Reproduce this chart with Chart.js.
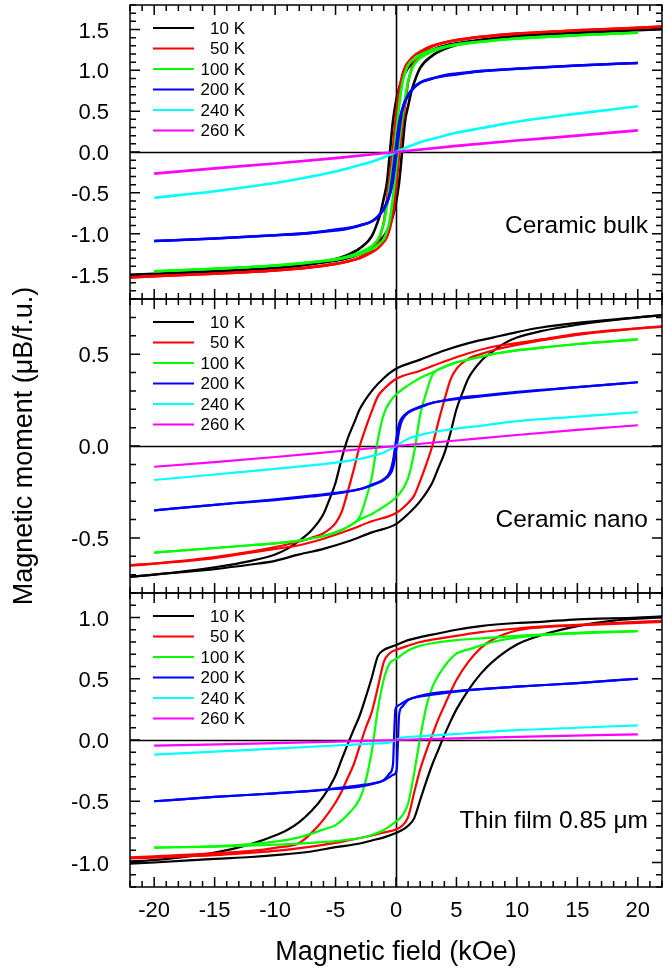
<!DOCTYPE html>
<html>
<head>
<meta charset="utf-8">
<title>Hysteresis loops</title>
<style>
  html, body { margin: 0; padding: 0; background: #fff; }
  #wrap { width: 663px; height: 969px; }
</style>
<script src="https://cdn.jsdelivr.net/npm/chart.js@4.4.1/dist/chart.umd.min.js"></script>
</head>
<body>
<div id="wrap"><canvas id="loops" width="663" height="969"></canvas></div>
<script>
// Legend / colours, shared by the three panels
const temps = ['10 K', '50 K', '100 K', '200 K', '240 K', '260 K'];
const colors = ['#000000', '#ff0000', '#00ff00', '#0000ff', '#00ffff', '#ff00ff'];
const panelNames = ['Ceramic bulk', 'Ceramic nano', 'Thin film 0.85 \u03bcm'];

// Field (kOe) vs moment (uB/f.u.) pairs.
// "Upper" = branch swept from +H to -H, "Lower" = branch swept from -H to +H.

// ---- Ceramic bulk ----
const bulk10Upper = [[-24,-1.52],[-20,-1.49],[-15,-1.46],[-10,-1.42],[-7,-1.37],[-5,-1.31],[-4,-1.26],[-3,-1.18],[-2,-1.03],[-1.5,-0.85],[-1.25,-0.73],[-1,-0.56],[-0.75,-0.38],[-0.5,0],[-0.25,0.38],[0,0.62],[0.25,0.78],[0.5,0.89],[0.75,0.97],[1,1.03],[1.5,1.12],[2,1.18],[3,1.25],[4,1.30],[5,1.33],[7,1.37],[10,1.42],[15,1.46],[20,1.50],[24,1.53]];
const bulk10Lower = [[-24,-1.53],[-20,-1.50],[-15,-1.46],[-10,-1.42],[-7,-1.37],[-5,-1.33],[-4,-1.30],[-3,-1.25],[-2,-1.18],[-1.5,-1.12],[-1,-1.03],[-0.75,-0.97],[-0.5,-0.89],[-0.25,-0.78],[0,-0.62],[0.25,-0.38],[0.5,0],[0.75,0.38],[1,0.56],[1.25,0.73],[1.5,0.85],[2,1.03],[3,1.18],[4,1.26],[5,1.31],[7,1.37],[10,1.42],[15,1.46],[20,1.49],[24,1.52]];
const bulk50Upper = [[-24,-1.55],[-20,-1.52],[-15,-1.49],[-10,-1.45],[-7,-1.41],[-5,-1.37],[-4,-1.34],[-3,-1.29],[-2,-1.20],[-1.5,-1.10],[-1.25,-1.00],[-1,-0.85],[-0.75,-0.58],[-0.5,-0.28],[-0.25,0.05],[0,0.45],[0.25,0.75],[0.5,0.93],[0.75,1.04],[1,1.10],[1.5,1.18],[2,1.23],[3,1.30],[4,1.34],[5,1.37],[7,1.41],[10,1.45],[15,1.49],[20,1.52],[24,1.55]];
const bulk50Lower = [[-24,-1.55],[-20,-1.52],[-15,-1.49],[-10,-1.45],[-7,-1.41],[-5,-1.37],[-4,-1.34],[-3,-1.30],[-2,-1.23],[-1.5,-1.18],[-1,-1.10],[-0.75,-1.04],[-0.5,-0.93],[-0.25,-0.75],[0,-0.45],[0.25,-0.05],[0.5,0.28],[0.75,0.58],[1,0.85],[1.25,1.00],[1.5,1.10],[2,1.20],[3,1.29],[4,1.34],[5,1.37],[7,1.41],[10,1.45],[15,1.49],[20,1.52],[24,1.55]];
const bulk100Upper = [[-20,-1.46],[-15,-1.43],[-10,-1.39],[-7,-1.35],[-5,-1.31],[-4,-1.28],[-3,-1.23],[-2,-1.15],[-1.5,-1.07],[-1.25,-0.99],[-1,-0.87],[-0.75,-0.66],[-0.5,-0.40],[-0.25,-0.12],[0,0.22],[0.25,0.55],[0.5,0.82],[0.75,0.97],[1,1.06],[1.5,1.14],[2,1.19],[3,1.25],[4,1.29],[5,1.32],[7,1.35],[10,1.39],[15,1.43],[20,1.46]];
const bulk100Lower = [[-20,-1.46],[-15,-1.43],[-10,-1.39],[-7,-1.35],[-5,-1.32],[-4,-1.29],[-3,-1.25],[-2,-1.19],[-1.5,-1.14],[-1,-1.06],[-0.75,-0.97],[-0.5,-0.82],[-0.25,-0.55],[0,-0.22],[0.25,0.12],[0.5,0.40],[0.75,0.66],[1,0.87],[1.25,0.99],[1.5,1.07],[2,1.15],[3,1.23],[4,1.28],[5,1.31],[7,1.35],[10,1.39],[15,1.43],[20,1.46]];
const bulk200Upper = [[-20,-1.09],[-15,-1.06],[-10,-1.02],[-7,-0.99],[-5,-0.96],[-4,-0.94],[-3,-0.90],[-2,-0.85],[-1.5,-0.79],[-1,-0.69],[-0.5,-0.50],[-0.25,-0.24],[0,0.06],[0.25,0.35],[0.5,0.52],[1,0.70],[1.5,0.79],[2,0.85],[3,0.90],[4,0.93],[5,0.95],[7,0.99],[10,1.02],[15,1.06],[20,1.09]];
const bulk200Lower = [[-20,-1.09],[-15,-1.06],[-10,-1.02],[-7,-0.99],[-5,-0.95],[-4,-0.93],[-3,-0.90],[-2,-0.85],[-1.5,-0.79],[-1,-0.70],[-0.5,-0.52],[-0.25,-0.35],[0,-0.06],[0.25,0.24],[0.5,0.50],[1,0.69],[1.5,0.79],[2,0.85],[3,0.90],[4,0.94],[5,0.96],[7,0.99],[10,1.02],[15,1.06],[20,1.09]];
const bulk240 = [[-20,-0.56],[-15,-0.48],[-10,-0.38],[-7,-0.30],[-5,-0.24],[-3,-0.16],[-2,-0.12],[-1,-0.065],[0,0],[1,0.065],[2,0.12],[3,0.16],[5,0.235],[7,0.29],[10,0.37],[15,0.47],[20,0.56]];
const bulk260 = [[-20,-0.265],[-15,-0.20],[-10,-0.14],[-5,-0.075],[0,0],[5,0.075],[10,0.14],[15,0.20],[20,0.265]];

// ---- Ceramic nano ----
const nano10Upper = [[-24,-0.72],[-20,-0.70],[-15,-0.66],[-12,-0.625],[-10,-0.59],[-9,-0.56],[-8,-0.515],[-7,-0.46],[-6,-0.37],[-5.5,-0.29],[-5,-0.20],[-4.5,-0.07],[-4,0.04],[-3.5,0.12],[-3,0.20],[-2,0.30],[-1,0.37],[0,0.42],[2,0.47],[4,0.52],[6,0.56],[8,0.59],[10,0.62],[12,0.645],[15,0.67],[20,0.70],[24,0.725]];
const nano10Lower = [[-24,-0.725],[-20,-0.70],[-15,-0.67],[-12,-0.645],[-10,-0.625],[-8,-0.59],[-6,-0.56],[-4,-0.52],[-2,-0.47],[0,-0.425],[1,-0.37],[2,-0.30],[3,-0.20],[3.5,-0.12],[4,-0.04],[4.5,0.07],[5,0.20],[5.5,0.29],[6,0.37],[7,0.46],[8,0.515],[9,0.56],[10,0.59],[12,0.625],[15,0.66],[20,0.70],[24,0.72]];
const nano50Upper = [[-24,-0.66],[-20,-0.64],[-15,-0.605],[-12,-0.575],[-10,-0.55],[-8,-0.52],[-7,-0.50],[-6,-0.475],[-5,-0.42],[-4.5,-0.36],[-4,-0.25],[-3.5,-0.13],[-3,0.0],[-2.5,0.10],[-2,0.19],[-1.5,0.27],[-1,0.31],[0,0.365],[2,0.41],[4,0.46],[6,0.505],[8,0.54],[10,0.56],[12,0.58],[15,0.61],[20,0.64],[24,0.655]];
const nano50Lower = [[-24,-0.655],[-20,-0.64],[-15,-0.61],[-12,-0.58],[-10,-0.56],[-8,-0.54],[-6,-0.505],[-4,-0.46],[-2,-0.41],[0,-0.365],[1,-0.31],[1.5,-0.27],[2,-0.19],[2.5,-0.10],[3,0.0],[3.5,0.13],[4,0.25],[4.5,0.36],[5,0.42],[6,0.475],[7,0.50],[8,0.52],[10,0.55],[12,0.575],[15,0.605],[20,0.64],[24,0.66]];
const nano100Upper = [[-20,-0.58],[-15,-0.555],[-12,-0.54],[-10,-0.53],[-8,-0.515],[-6,-0.49],[-5,-0.47],[-4,-0.44],[-3,-0.385],[-2.5,-0.29],[-2,-0.17],[-1.5,0.035],[-1,0.175],[-0.5,0.24],[0,0.28],[1,0.33],[2,0.37],[3,0.40],[4,0.43],[5,0.455],[6,0.47],[8,0.50],[10,0.52],[12,0.535],[15,0.555],[20,0.58]];
const nano100Lower = [[-20,-0.58],[-15,-0.555],[-12,-0.54],[-10,-0.53],[-8,-0.515],[-6,-0.49],[-5,-0.47],[-4,-0.44],[-3,-0.40],[-2,-0.37],[-1,-0.33],[0,-0.28],[0.5,-0.24],[1,-0.175],[1.5,-0.035],[2,0.17],[2.5,0.29],[3,0.385],[4,0.43],[5,0.455],[6,0.47],[8,0.50],[10,0.52],[12,0.535],[15,0.555],[20,0.58]];
const nano200Upper = [[-20,-0.35],[-15,-0.32],[-10,-0.29],[-7,-0.27],[-5,-0.255],[-3,-0.235],[-2,-0.21],[-1,-0.18],[-0.5,-0.14],[-0.25,-0.08],[0,0.03],[0.25,0.12],[0.5,0.155],[1,0.185],[2,0.215],[3,0.235],[5,0.26],[7,0.275],[10,0.295],[15,0.32],[20,0.347]];
const nano200Lower = [[-20,-0.35],[-15,-0.32],[-10,-0.295],[-7,-0.275],[-5,-0.26],[-3,-0.235],[-2,-0.215],[-1,-0.185],[-0.5,-0.155],[-0.25,-0.12],[0,-0.03],[0.25,0.08],[0.5,0.14],[1,0.18],[2,0.21],[3,0.235],[5,0.255],[7,0.27],[10,0.29],[15,0.32],[20,0.347]];
const nano240 = [[-20,-0.185],[-15,-0.155],[-10,-0.125],[-7,-0.105],[-5,-0.09],[-3,-0.07],[-2,-0.055],[-1,-0.035],[0,0],[1,0.04],[2,0.06],[3,0.075],[5,0.095],[7,0.11],[10,0.135],[15,0.16],[20,0.184]];
const nano260 = [[-20,-0.113],[-15,-0.088],[-10,-0.06],[-5,-0.03],[0,0],[5,0.03],[10,0.06],[15,0.088],[20,0.113]];

// ---- Thin film 0.85 um ----
const film10Upper = [[-24,-1.0],[-20,-0.98],[-18,-0.96],[-15,-0.92],[-12,-0.85],[-10,-0.78],[-9,-0.735],[-8,-0.67],[-7,-0.58],[-6,-0.46],[-5,-0.29],[-4.5,-0.16],[-4,-0.035],[-3.5,0.085],[-3,0.20],[-2.5,0.35],[-2,0.51],[-1.5,0.685],[-1,0.735],[-0.5,0.757],[0,0.775],[1,0.815],[2,0.84],[3,0.86],[5,0.90],[7,0.93],[10,0.955],[12,0.965],[15,0.985],[20,1.0],[24,1.02]];
const film10Lower = [[-24,-1.02],[-20,-1.0],[-15,-0.97],[-12,-0.955],[-10,-0.94],[-7,-0.91],[-5,-0.875],[-3,-0.845],[-2,-0.82],[-1,-0.795],[0,-0.76],[0.5,-0.735],[1,-0.70],[1.5,-0.64],[2,-0.49],[2.5,-0.34],[3,-0.20],[3.5,-0.08],[4,0.04],[4.5,0.15],[5,0.25],[6,0.41],[7,0.54],[8,0.64],[10,0.78],[12,0.855],[15,0.93],[18,0.975],[20,0.99],[24,1.01]];
const film50Upper = [[-24,-0.965],[-20,-0.95],[-15,-0.925],[-12,-0.905],[-10,-0.88],[-8,-0.84],[-7,-0.76],[-6,-0.65],[-5,-0.51],[-4.5,-0.42],[-4,-0.31],[-3.5,-0.20],[-3,-0.05],[-2.5,0.10],[-2,0.23],[-1.5,0.43],[-1,0.64],[-0.5,0.71],[0,0.735],[1,0.77],[2,0.80],[3,0.82],[5,0.85],[7,0.88],[10,0.91],[12,0.925],[15,0.94],[20,0.965],[24,0.98]];
const film50Lower = [[-24,-0.975],[-20,-0.96],[-15,-0.94],[-12,-0.92],[-10,-0.905],[-7,-0.87],[-5,-0.84],[-3,-0.80],[-2,-0.78],[-1,-0.755],[0,-0.73],[0.5,-0.70],[1,-0.63],[1.5,-0.43],[2,-0.24],[2.5,-0.09],[3,0.04],[3.5,0.17],[4,0.28],[4.5,0.39],[5,0.49],[6,0.64],[7,0.75],[8,0.82],[10,0.895],[12,0.92],[15,0.935],[20,0.955],[24,0.975]];
const film100Upper = [[-20,-0.878],[-15,-0.868],[-12,-0.85],[-10,-0.83],[-8,-0.795],[-7,-0.765],[-6,-0.73],[-5,-0.695],[-4,-0.61],[-3,-0.48],[-2.5,-0.33],[-2,-0.09],[-1.5,0.25],[-1,0.50],[-0.5,0.63],[0,0.66],[1,0.73],[2,0.77],[3,0.79],[5,0.815],[7,0.83],[10,0.85],[15,0.875],[20,0.888]];
const film100Lower = [[-20,-0.878],[-15,-0.87],[-10,-0.855],[-7,-0.84],[-5,-0.825],[-3,-0.80],[-2,-0.775],[-1,-0.735],[0,-0.665],[0.5,-0.62],[1,-0.52],[1.5,-0.27],[2,0.02],[2.5,0.27],[3,0.43],[4,0.60],[5,0.705],[6,0.74],[7,0.77],[8,0.80],[10,0.835],[12,0.855],[15,0.87],[20,0.888]];
const film200Upper = [[-20,-0.50],[-15,-0.465],[-10,-0.435],[-7,-0.415],[-5,-0.40],[-3,-0.38],[-2,-0.36],[-1,-0.325],[-0.5,-0.27],[-0.25,-0.2],[-0.15,0.05],[-0.05,0.25],[0.25,0.285],[0.5,0.30],[1,0.33],[2,0.355],[3,0.37],[5,0.395],[7,0.415],[10,0.435],[15,0.465],[20,0.50]];
const film200Lower = [[-20,-0.50],[-15,-0.465],[-10,-0.435],[-7,-0.415],[-5,-0.395],[-3,-0.37],[-2,-0.355],[-1,-0.33],[-0.5,-0.30],[-0.25,-0.285],[0.05,-0.25],[0.15,-0.05],[0.25,0.2],[0.5,0.27],[1,0.325],[2,0.36],[3,0.38],[5,0.40],[7,0.415],[10,0.435],[15,0.465],[20,0.50]];
const film240 = [[-20,-0.12],[-15,-0.095],[-10,-0.07],[-5,-0.045],[-2,-0.03],[-0.5,-0.02],[0,0],[0.5,0.02],[2,0.03],[5,0.05],[10,0.08],[15,0.10],[20,0.12]];
const film260 = [[-20,-0.046],[-10,-0.025],[0,0],[10,0.025],[20,0.046]];

const bulkLoops = [[bulk10Upper, bulk10Lower], [bulk50Upper, bulk50Lower], [bulk100Upper, bulk100Lower], [bulk200Upper, bulk200Lower], [bulk240], [bulk260]];
const nanoLoops = [[nano10Upper, nano10Lower], [nano50Upper, nano50Lower], [nano100Upper, nano100Lower], [nano200Upper, nano200Lower], [nano240], [nano260]];
const filmLoops = [[film10Upper, film10Lower], [film50Upper, film50Lower], [film100Upper, film100Lower], [film200Upper, film200Lower], [film240], [film260]];

Chart.defaults.font.family = '"Liberation Sans", Arial, sans-serif';
Chart.defaults.color = '#000';

const datasets = [];
function addPanel(loops, axisId, width) {
    loops.forEach((branches, t) => {
        branches.forEach(branch => {
            datasets.push({
                label: temps[t],
                yAxisID: axisId,
                data: branch.map(p => ({ x: p[0], y: p[1] })),
                borderColor: colors[t],
                borderWidth: width,
                pointRadius: 0,
                fill: false,
                cubicInterpolationMode: 'monotone',
                order: temps.length - t
            });
        });
    });
}
addPanel(bulkLoops, 'yBulk', 2.6);
addPanel(nanoLoops, 'yNano', 2.2);
addPanel(filmLoops, 'yFilm', 2.2);

function yAxis(lim) {
    return {
        type: 'linear', position: 'left', stack: 'panels', stackWeight: 1,
        min: -lim, max: lim,
        grid: { display: false }, border: { display: false },
        ticks: {
            stepSize: 0.5, includeBounds: false, autoSkip: false, padding: 13, labelOffset: 2,
            font: { size: 22 }, color: '#000',
            callback: v => v.toFixed(1)
        },
        afterFit: s => { s.width = 128; s.paddingTop = 0; s.paddingBottom = 0; }
    };
}

// panel frames, inward ticks, zero lines, legends and panel names
const panelDecor = {
    id: 'panelDecor',
    beforeDatasetsDraw(chart) {
        const { ctx, chartArea, scales } = chart;
        ctx.save();
        ctx.strokeStyle = '#000';
        ctx.lineWidth = 1.6;
        ['yBulk', 'yNano', 'yFilm'].forEach(id => {
            const y0 = Math.round(scales[id].getPixelForValue(0)) + 0.5;
            ctx.beginPath();
            ctx.moveTo(chartArea.left, y0);
            ctx.lineTo(chartArea.right, y0);
            ctx.stroke();
        });
        const x0 = Math.round(scales.x.getPixelForValue(0)) + 0.5;
        ctx.beginPath();
        ctx.moveTo(x0, chartArea.top);
        ctx.lineTo(x0, chartArea.bottom);
        ctx.stroke();
        ctx.restore();
    },
    afterDatasetsDraw(chart, args, opts) {
        const { ctx, chartArea, scales } = chart;
        const x = scales.x;
        const L = chartArea.left, R = chartArea.right;
        ctx.save();
        ctx.strokeStyle = '#000';
        ctx.lineWidth = 1.5;
        ['yBulk', 'yNano', 'yFilm'].forEach((id, p) => {
            const s = scales[id];
            const T = s.top, B = s.bottom;
            ctx.strokeRect(L, T, R - L, B - T);
            // y ticks every 0.1, major every 0.5
            const lo = Math.ceil(s.min * 10 - 1e-6), hi = Math.floor(s.max * 10 + 1e-6);
            ctx.beginPath();
            for (let i = lo; i <= hi; i++) {
                const py = s.getPixelForValue(i / 10);
                const len = i % 5 === 0 ? 10 : 6;
                ctx.moveTo(L, py); ctx.lineTo(L + len, py);
                ctx.moveTo(R, py); ctx.lineTo(R - len, py);
            }
            // x ticks every 1 kOe, major every 5
            for (let h = Math.ceil(x.min); h <= Math.floor(x.max); h++) {
                const px = x.getPixelForValue(h);
                const len = h % 5 === 0 ? 10 : 6;
                ctx.moveTo(px, T); ctx.lineTo(px, T + len);
                ctx.moveTo(px, B); ctx.lineTo(px, B - len);
            }
            ctx.stroke();

            // legend
            ctx.font = '17px "Liberation Sans", Arial, sans-serif';
            ctx.textAlign = 'right';
            ctx.textBaseline = 'middle';
            temps.forEach((t, i) => {
                const ry = T + 23 + i * 20.5;
                ctx.strokeStyle = colors[i];
                ctx.lineWidth = 2.2;
                ctx.beginPath();
                ctx.moveTo(L + 23, ry); ctx.lineTo(L + 64, ry);
                ctx.stroke();
                ctx.fillStyle = '#000';
                ctx.fillText(t, L + 115, ry + 1);
            });
            ctx.strokeStyle = '#000';
            ctx.lineWidth = 1.5;

            // panel name
            ctx.font = '24.5px "Liberation Sans", Arial, sans-serif';
            ctx.textBaseline = 'alphabetic';
            ctx.fillText(panelNames[p], R - 14, B - opts.nameOffsets[p]);
        });
        ctx.restore();
    }
};

new Chart(document.getElementById('loops'), {
    type: 'line',
    data: { datasets: datasets },
    options: {
        responsive: false,
        animation: false,
        events: [],
        layout: { padding: { left: 2, right: 1, top: 5, bottom: 0 } },
        plugins: {
            legend: { display: false },
            tooltip: { enabled: false },
            panelDecor: { nameOffsets: [66, 66, 59] }
        },
        scales: {
            x: {
                type: 'linear', position: 'bottom', min: -22, max: 22,
                grid: { display: false }, border: { display: false },
                ticks: { stepSize: 5, includeBounds: false, autoSkip: false, padding: 3, maxRotation: 0, font: { size: 22 }, color: '#000' },
                title: { display: true, text: 'Magnetic field (kOe)', font: { size: 27 }, color: '#000', padding: { top: 4, bottom: 0 } },
                afterFit: s => { s.height = 82; s.paddingLeft = 0; s.paddingRight = 0; }
            },
            yFilm: yAxis(1.2),
            yNano: Object.assign(yAxis(0.8), {
                title: { display: true, text: 'Magnetic moment (\u03bcB/f.u.)', font: { size: 27 }, color: '#000', padding: { top: 6, bottom: 0 } }
            }),
            yBulk: yAxis(1.8)
        }
    },
    plugins: [panelDecor]
});
</script>
</body>
</html>
